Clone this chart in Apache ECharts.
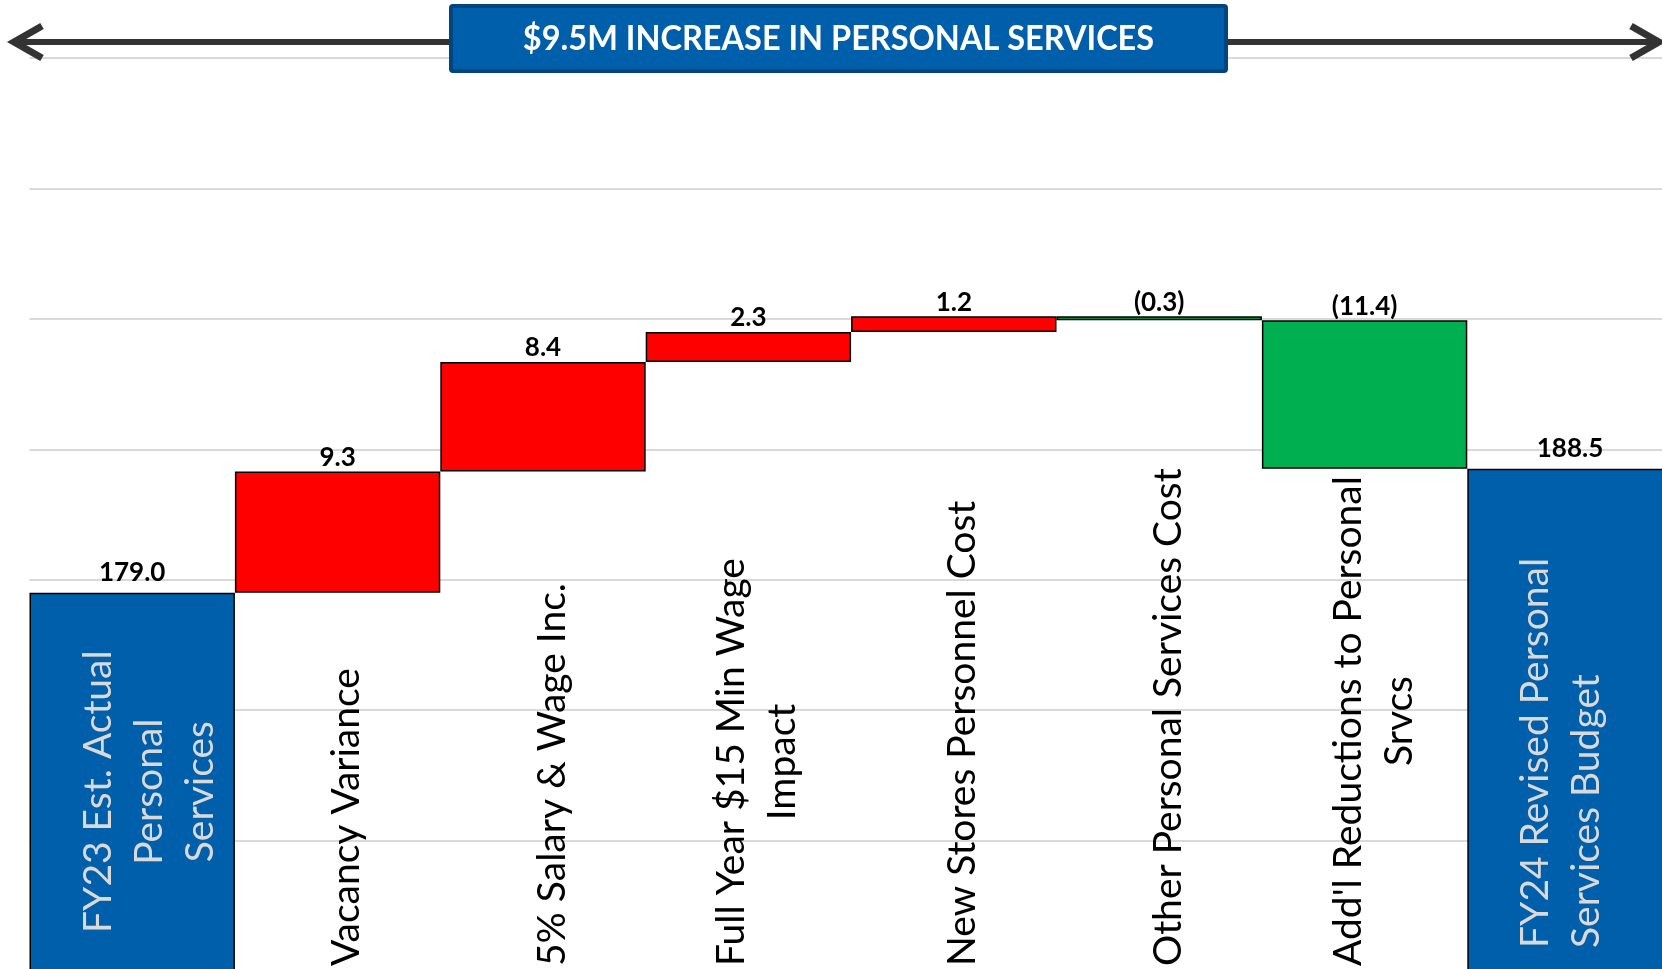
<!DOCTYPE html>
<html>
<head>
<meta charset="utf-8">
<script src="https://cdn.jsdelivr.net/npm/echarts@6/dist/echarts.min.js"></script>
<style>
html,body{margin:0;padding:0;background:#fff;overflow:hidden;}
#chart{width:1662px;height:969px;}
</style>
</head>
<body>
<div id="chart"></div>
<script>
// categories (line breaks as in the picture)
var categories = [
    'FY23 Est. Actual\nPersonal\nServices',
    'Vacancy Variance',
    '5% Salary & Wage Inc.',
    'Full Year $15 Min Wage\nImpact',
    'New Stores Personnel Cost',
    'Other Personal Services Cost',
    "Add'l Reductions to Personal\nSrvcs",
    'FY24 Revised Personal\nServices Budget'
];
// $M, totals first and last, changes in between
var changes = [179.0, 9.3, 8.4, 2.3, 1.2, -0.3, -11.4, 188.5];
var isTotal = [true, false, false, false, false, false, false, true];
var yTicks = [150, 160, 170, 180, 190, 200, 210, 220];

var titleText = '$9.5M INCREASE IN PERSONAL SERVICES';

// 瀑布图：透明底座 + 可见柱
var baseData = [];
var barData = [];
var running = 0;
for (var i = 0; i < changes.length; i++) {
    var color, dist;
    if (isTotal[i]) {
        baseData.push(0);
        running = changes[i];
        color = '#005FAA';
        dist = 7;
    } else {
        var next = running + changes[i];
        baseData.push(Math.min(running, next));
        running = next;
        color = changes[i] > 0 ? '#FF0000' : '#00B050';
        dist = 1;
    }
    barData.push({
        value: Math.abs(changes[i]),
        itemStyle: { color: color },
        label: { distance: dist }
    });
}

function fmt(v) {
    return v < 0 ? '(' + Math.abs(v).toFixed(1) + ')' : v.toFixed(1);
}

var myChart = echarts.init(document.getElementById('chart'));
var option = {
    animation: false,
    backgroundColor: '#fff',
    grid: {
        left: 29.5,
        right: -10.7,
        top: 58,
        bottom: -2,
        containLabel: false,
        outerBoundsMode: 'none'
    },
    xAxis: {
        type: 'category',
        data: categories,
        z: 10,
        axisLine: { show: false },
        axisTick: { show: false },
        splitLine: { show: false },
        axisLabel: {
            interval: 0,
            inside: true,
            rotate: 90,
            margin: 5,
            align: 'left',
            verticalAlign: 'middle',
            hideOverlap: false,
            formatter: function (value, index) {
                var key = index === 0 ? 'a' : (index === categories.length - 1 ? 'b' : 'c');
                return value.split('\n').map(function (s) {
                    return '{' + key + '|' + s + '}';
                }).join('\n');
            },
            rich: {
                a: { fontFamily: 'Lato', fontSize: 39, lineHeight: 51, color: '#d9d9d9', align: 'center', padding: [34, 0, 0, 33] },
                b: { fontFamily: 'Lato', fontSize: 39, lineHeight: 51, color: '#d9d9d9', align: 'left', padding: [0, 0, 18, 18] },
                c: { fontFamily: 'Lato', fontSize: 39, lineHeight: 51, color: '#000', align: 'center', padding: [18, 0, 0, 0] }
            }
        }
    },
    yAxis: {
        type: 'value',
        min: yTicks[0],
        max: yTicks[yTicks.length - 1],
        interval: yTicks[1] - yTicks[0],
        axisLine: { show: false },
        axisTick: { show: false },
        axisLabel: { show: false },
        splitLine: { lineStyle: { color: '#d9d9d9', width: 2 } }
    },
    series: [
        {
            type: 'bar',
            stack: 'w',
            silent: true,
            barCategoryGap: 0,
            itemStyle: { color: 'transparent', borderWidth: 0 },
            data: baseData
        },
        {
            type: 'bar',
            stack: 'w',
            barCategoryGap: 0,
            itemStyle: { borderColor: '#000', borderWidth: 1.5 },
            label: {
                show: true,
                position: 'top',
                fontFamily: 'Lato',
                fontWeight: 'bold',
                fontSize: 26,
                color: '#000',
                formatter: function (p) { return fmt(changes[p.dataIndex]); }
            },
            data: barData
        }
    ],
    graphic: [
        {
            type: 'polyline',
            z: 50,
            shape: { points: [[14, 42], [1659, 42]] },
            style: { stroke: '#333', lineWidth: 6, fill: null }
        },
        {
            type: 'polyline',
            z: 50,
            shape: { points: [[42, 26], [14, 42], [42, 58]] },
            style: { stroke: '#333', lineWidth: 7, fill: null, lineJoin: 'miter' }
        },
        {
            type: 'polyline',
            z: 50,
            shape: { points: [[1631, 26], [1659, 42], [1631, 58]] },
            style: { stroke: '#333', lineWidth: 7, fill: null, lineJoin: 'miter' }
        },
        {
            type: 'rect',
            z: 60,
            shape: { x: 451, y: 6, width: 775, height: 65, r: 2 },
            style: { fill: '#005FAA', stroke: '#00457F', lineWidth: 4 }
        },
        {
            type: 'text',
            z: 61,
            x: 838.5,
            y: 39,
            scaleY: 1.08,
            style: {
                text: titleText,
                fill: '#fff',
                font: 'bold 32.5px Lato',
                textAlign: 'center',
                textVerticalAlign: 'middle'
            }
        }
    ]
};
myChart.setOption(option);
</script>
</body>
</html>
